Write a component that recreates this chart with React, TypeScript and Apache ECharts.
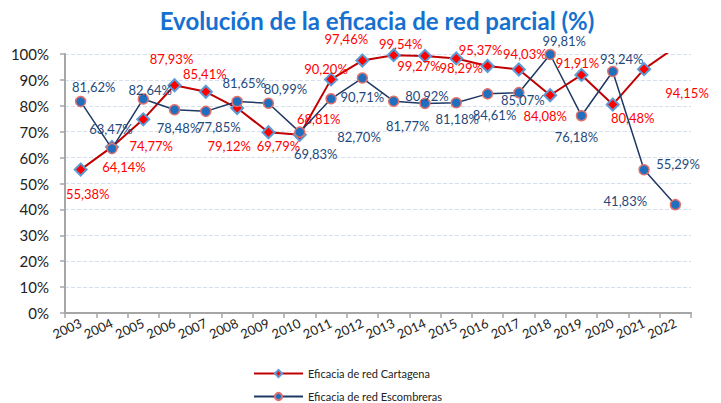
import React, { useEffect, useRef } from "react";
import * as echarts from "echarts";

const years = ["2003","2004","2005","2006","2007","2008","2009","2010","2011","2012","2013","2014","2015","2016","2017","2018","2019","2020","2021","2022"];
const cartagena = [55.38,64.14,74.77,87.93,85.41,79.12,69.79,68.81,90.20,97.46,99.54,99.27,98.29,95.37,94.03,84.08,91.91,80.48,94.15,102.6];
const escombreras = [81.62,63.47,82.64,78.48,77.85,81.65,80.99,69.83,82.70,90.71,81.77,80.92,81.18,84.61,85.07,99.81,76.18,93.24,55.29,41.83];
const yTicks = [0,10,20,30,40,50,60,70,80,90,100];

// label offsets (dx, dy) relative to each point
const cartagenaLabelOffsets: [number, number][] = [
  [7,24],[12,20],[8,27],[-3,-26],[-1,-18],[-8,38],[10,14],[19,-16],[-5,-10],[-16,-22],
  [7,-11],[-6,10],[5,10],[-7,-16],[6,-15],[-5,21],[-4,-12],[20,13],[43,24],[0,0],
];
const escombrerasLabelOffsets: [number, number][] = [
  [13,-15],[-1,-20],[7,-9],[4,18],[13,16],[7,-19],[17,-14],[16,22],[28,38],[0,19],
  [14,25],[2,-7],[1,16],[7,21],[4,7],[14,-13],[-5,21],[9,-13],[34,-6],[-50,-4],
];

const fmt = (v: number) => v.toFixed(2).replace(".", ",") + "%";
const FONT = "Lato";
const NAME_A = "Eficacia de red Cartagena";
const NAME_B = "Eficacia de red Escombreras";

export default function App() {
  const ref = useRef<HTMLDivElement>(null);
  useEffect(() => {
    if (!ref.current) return;
    const chart = echarts.init(ref.current, null, { renderer: "svg" });
    const redData = cartagena.map((v, i) => ({
      value: v,
      label: { show: v <= 100, offset: cartagenaLabelOffsets[i] },
    }));
    const blueData = escombreras.map((v, i) => ({
      value: v,
      label: { show: true, offset: escombrerasLabelOffsets[i] },
    }));
    const legendBase = {
      orient: "horizontal",
      left: 253,
      itemWidth: 49,
      itemHeight: 9,
      itemGap: 10,
      padding: 0,
      textStyle: { fontFamily: FONT, fontSize: 11, color: "#222" },
    };
    chart.setOption({
      animation: false,
      title: {
        text: "Evolución de la eficacia de red parcial (%)",
        left: 372,
        textAlign: "center",
        top: 3,
        textStyle: { fontFamily: FONT, fontSize: 24, fontWeight: "bold", color: "#1570D0" },
      },
      legend: [
        { ...legendBase, top: 368, data: [NAME_A] },
        { ...legendBase, top: 391, data: [NAME_B] },
      ],
      grid: { left: 65, right: 30, top: 54, bottom: 90, containLabel: false },
      xAxis: {
        type: "category",
        data: years,
        boundaryGap: true,
        axisLine: { lineStyle: { color: "#A6A6A6", width: 2 } },
        axisTick: { show: true, length: 5, lineStyle: { color: "#A6A6A6", width: 1.5 } },
        axisLabel: { interval: 0, rotate: 25, fontFamily: FONT, fontSize: 13, color: "#222", margin: 9 },
      },
      yAxis: {
        type: "value",
        min: 0,
        max: 100,
        interval: 10,
        axisLine: { show: true, lineStyle: { color: "#A6A6A6", width: 2 } },
        axisTick: { show: true, length: 5, lineStyle: { color: "#A6A6A6", width: 1.5 } },
        axisLabel: {
          fontFamily: FONT, fontSize: 15, color: "#222", margin: 16,
          formatter: (v: number) => (yTicks.includes(v) ? v + "%" : ""),
        },
        splitLine: { lineStyle: { color: "#D6DFEE", type: "dashed", width: 1 } },
      },
      series: [
        {
          name: NAME_A,
          type: "line",
          data: redData,
          clip: true,
          symbol: "diamond",
          symbolSize: 12,
          lineStyle: { color: "#C00000", width: 2 },
          itemStyle: { color: "#FF0000", borderColor: "#5B9BD5", borderWidth: 2 },
          label: {
            show: true,
            position: "inside",
            formatter: (p: any) => fmt(p.value),
            fontFamily: FONT,
            fontSize: 13,
            color: "#FF0000",
          },
          z: 2,
        },
        {
          name: NAME_B,
          type: "line",
          data: blueData,
          clip: true,
          symbol: "circle",
          symbolSize: 10,
          lineStyle: { color: "#1F3864", width: 1.5 },
          itemStyle: { color: "#1F6FC0", borderColor: "#E0706A", borderWidth: 1.5 },
          label: {
            show: true,
            position: "inside",
            formatter: (p: any) => fmt(p.value),
            fontFamily: FONT,
            fontSize: 13,
            color: "#1F497D",
          },
          z: 3,
        },
      ],
    });
    return () => chart.dispose();
  }, []);
  return <div ref={ref} style={{ width: 721, height: 403, position: "absolute", left: 0, top: 0 }} />;
}
